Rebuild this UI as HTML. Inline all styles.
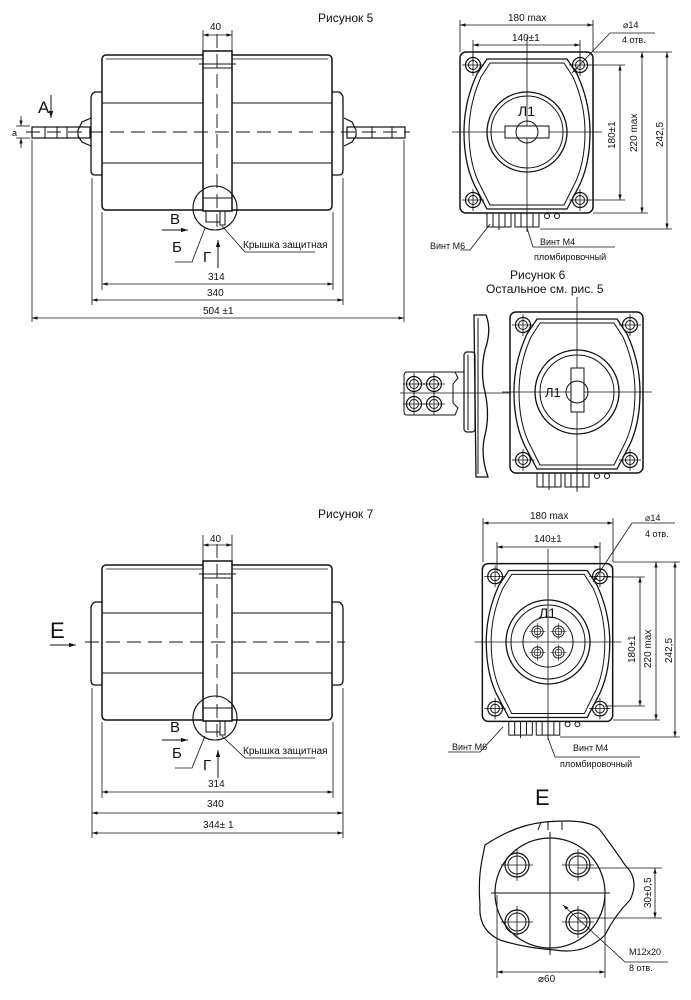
<!DOCTYPE html>
<html><head><meta charset="utf-8"><style>
html,body{margin:0;padding:0;background:#fff}
svg{display:block}
text{font-family:"Liberation Sans",sans-serif;fill:#111}
</style></head><body>
<svg width="691" height="1000" viewBox="0 0 691 1000" xmlns="http://www.w3.org/2000/svg">
<defs>
<marker id="ar" viewBox="0 0 10 10" refX="10" refY="5" markerWidth="7" markerHeight="7" orient="auto-start-reverse"><path d="M0,2 L10,5 L0,8 z" fill="#111"/></marker>
<g id="hole"><circle r="7.5" fill="none" stroke="#111" stroke-width="1.2"/><circle r="4.5" fill="none" stroke="#111" stroke-width="1"/><line x1="-11" y1="0" x2="11" y2="0" stroke="#111" stroke-width="0.8"/><line x1="0" y1="-11" x2="0" y2="11" stroke="#111" stroke-width="0.8"/></g>
<g id="front" fill="none" stroke="#111">
 <rect x="-67" y="-80" width="133" height="161" rx="6" stroke-width="1.5"/>
 <use href="#hole" x="-54" y="-67"/><use href="#hole" x="53" y="-67"/><use href="#hole" x="-54" y="68"/><use href="#hole" x="53" y="68"/>
 <path d="M-40,-73 L40,-73 L50,-58 Q63,-30 63,0 Q63,35 50,58 L40,77 L-40,77 L-50,58 Q-63,35 -63,0 Q-63,-30 -50,-58 Z" stroke-width="1.3"/>
 <path d="M-37,-69 L37,-69 L46,-55 Q58,-28 58,0 Q58,33 46,55 L37,73 L-37,73 L-46,55 Q-58,33 -58,0 Q-58,-28 -46,-55 Z" stroke-width="1"/>
 <line x1="-40" y1="77" x2="40" y2="77" stroke-width="1"/>
 <rect x="-40" y="81" width="24" height="14" stroke-width="1"/><rect x="-12" y="81" width="24" height="14" stroke-width="1"/>
 <line x1="-34" y1="81" x2="-34" y2="95"/><line x1="-28" y1="81" x2="-28" y2="98"/><line x1="-22" y1="81" x2="-22" y2="95"/>
 <line x1="-6" y1="81" x2="-6" y2="95"/><line x1="0" y1="81" x2="0" y2="98"/><line x1="6" y1="81" x2="6" y2="95"/>
 <circle cx="20" cy="84" r="2.5"/><circle cx="30" cy="84" r="2.5"/>
 <line x1="-75" y1="0" x2="75" y2="0" stroke-width="0.8"/><line x1="0" y1="-95" x2="0" y2="100" stroke-width="0.8"/>
</g>
<g id="side" fill="none" stroke="#111">
 <rect x="-115" y="-77" width="230" height="155" rx="4" stroke-width="1.5"/>
 <line x1="-111" y1="-73" x2="111" y2="-73" stroke-width="0.8"/>
 <line x1="-115" y1="-29" x2="115" y2="-29"/><line x1="-115" y1="31" x2="115" y2="31"/>
 <path d="M-115,-40 L-122,-40 Q-126,-38 -126,-34 L-126,38 Q-126,43 -122,43 L-115,43" stroke-width="1.3"/>
 <path d="M115,-40 L122,-40 Q126,-38 126,-34 L126,38 Q126,43 122,43 L115,43" stroke-width="1.3"/>
 <rect x="-14" y="-81" width="29" height="160" fill="#fff" stroke-width="1.5"/>
 <line x1="-14" y1="-64" x2="15" y2="-64"/><line x1="-18" y1="-68" x2="19" y2="-68"/>
 <line x1="-14" y1="66" x2="15" y2="66"/>
 <rect x="-11" y="79" width="14" height="11"/><rect x="3" y="79" width="5" height="14"/>
 <circle cx="-2" cy="76" r="22" stroke-width="1.1"/>
 <line x1="0" y1="-98" x2="0" y2="95" stroke-dasharray="14,6" stroke-width="0.9"/>
</g>
</defs>

<!-- Figure 5 -->
<text x="318" y="22" font-size="12">Рисунок 5</text>
<use href="#side" x="217" y="132"/>
<g fill="none" stroke="#111">
 <path d="M91,118 L82,122 L78,130 L78,136 L82,142 L91,146" stroke-width="1.2"/>
 <rect x="32" y="127" width="58" height="11" stroke-width="1.2"/>
 <line x1="45" y1="127" x2="45" y2="138"/><line x1="57" y1="127" x2="57" y2="138"/><line x1="67" y1="127" x2="67" y2="138"/>
 <path d="M344,118 L352,122 L356,130 L356,136 L352,142 L344,146" stroke-width="1.2"/>
 <rect x="347" y="127" width="58" height="11" stroke-width="1.2"/>
 <line x1="372" y1="127" x2="372" y2="138"/><line x1="392" y1="127" x2="392" y2="138"/>
 <line x1="26" y1="132" x2="410" y2="132" stroke-dasharray="14,7" stroke-width="0.9"/>
 <line x1="16" y1="126" x2="30" y2="126" stroke-width="0.8"/><line x1="16" y1="138" x2="30" y2="138" stroke-width="0.8"/>
 <line x1="21" y1="116" x2="21" y2="126" marker-end="url(#ar)" stroke-width="0.8"/><line x1="21" y1="148" x2="21" y2="138" marker-end="url(#ar)" stroke-width="0.8"/>
 <line x1="51" y1="95" x2="51" y2="118" marker-end="url(#ar)"/>
 <line x1="203" y1="30" x2="203" y2="55" stroke-width="0.8"/><line x1="232" y1="30" x2="232" y2="55" stroke-width="0.8"/>
 <line x1="203" y1="35" x2="232" y2="35" marker-start="url(#ar)" marker-end="url(#ar)" stroke-width="0.8"/>
 <line x1="102" y1="212" x2="102" y2="290" stroke-width="0.8"/><line x1="333" y1="212" x2="333" y2="290" stroke-width="0.8"/>
 <line x1="92" y1="178" x2="92" y2="305" stroke-width="0.8"/><line x1="343" y1="178" x2="343" y2="305" stroke-width="0.8"/>
 <line x1="32" y1="140" x2="32" y2="322" stroke-width="0.8"/><line x1="404" y1="140" x2="404" y2="322" stroke-width="0.8"/>
 <line x1="102" y1="284" x2="333" y2="284" marker-start="url(#ar)" marker-end="url(#ar)" stroke-width="0.8"/>
 <line x1="92" y1="300" x2="343" y2="300" marker-start="url(#ar)" marker-end="url(#ar)" stroke-width="0.8"/>
 <line x1="32" y1="318" x2="404" y2="318" marker-start="url(#ar)" marker-end="url(#ar)" stroke-width="0.8"/>
 <line x1="162" y1="230" x2="188" y2="230" marker-end="url(#ar)"/>
 <line x1="218" y1="268" x2="218" y2="240" marker-end="url(#ar)"/>
 <path d="M175,262 L192,262 L205,228" stroke-width="0.8"/>
 <path d="M222,226 L245,252 L315,252" stroke-width="0.8"/>
</g>
<text x="210" y="30" font-size="10">40</text>
<text x="38" y="113" font-size="17">А</text>
<text x="12" y="136" font-size="9">а</text>
<text x="170" y="224" font-size="15">В</text>
<text x="172" y="252" font-size="15">Б</text>
<text x="203" y="262" font-size="15">Г</text>
<text x="243" y="248" font-size="10">Крышка защитная</text>
<text x="208" y="280" font-size="10">314</text>
<text x="207" y="296" font-size="10">340</text>
<text x="203" y="314" font-size="10">504 ±1</text>

<!-- Figure 5 front -->
<use href="#front" x="527" y="132"/>
<g fill="none" stroke="#111">
 <circle cx="527" cy="132" r="40" stroke-width="1.3"/><circle cx="527" cy="132" r="36"/>
 <rect x="505" y="126" width="44" height="12" fill="#fff"/><circle cx="527" cy="132" r="11"/>
 <line x1="460" y1="20" x2="460" y2="52" stroke-width="0.8"/><line x1="593" y1="20" x2="593" y2="52" stroke-width="0.8"/>
 <line x1="460" y1="25" x2="593" y2="25" marker-start="url(#ar)" marker-end="url(#ar)" stroke-width="0.8"/>
 <line x1="473" y1="40" x2="473" y2="60" stroke-width="0.8"/><line x1="580" y1="40" x2="580" y2="60" stroke-width="0.8"/>
 <line x1="473" y1="45" x2="580" y2="45" marker-start="url(#ar)" marker-end="url(#ar)" stroke-width="0.8"/>
 <line x1="587" y1="65" x2="625" y2="65" stroke-width="0.8"/><line x1="587" y1="200" x2="625" y2="200" stroke-width="0.8"/>
 <line x1="620" y1="65" x2="620" y2="200" marker-start="url(#ar)" marker-end="url(#ar)" stroke-width="0.8"/>
 <line x1="593" y1="52" x2="672" y2="52" stroke-width="0.8"/><line x1="593" y1="213" x2="648" y2="213" stroke-width="0.8"/>
 <line x1="540" y1="229" x2="672" y2="229" stroke-width="0.8"/>
 <line x1="642" y1="52" x2="642" y2="213" marker-start="url(#ar)" marker-end="url(#ar)" stroke-width="0.8"/>
 <line x1="667" y1="52" x2="667" y2="229" marker-start="url(#ar)" marker-end="url(#ar)" stroke-width="0.8"/>
 <path d="M655,33 L610,33 L572,73" stroke-width="0.8" marker-end="url(#ar)"/>
 <path d="M460,250 L470,250 L490,224" stroke-width="0.8"/>
 <path d="M527,228 L533,247 L615,247" stroke-width="0.8"/>
</g>
<text x="508" y="21" font-size="10">180 max</text>
<text x="512" y="41" font-size="10">140±1</text>
<text x="623" y="28" font-size="9">⌀14</text>
<text x="622" y="43" font-size="9">4 отв.</text>
<text x="518" y="116" font-size="14">Л1</text>
<text transform="translate(615,149) rotate(-90)" font-size="10">180±1</text>
<text transform="translate(637,152) rotate(-90)" font-size="10">220 max</text>
<text transform="translate(663,147) rotate(-90)" font-size="10">242,5</text>
<text x="430" y="249" font-size="9">Винт М6</text>
<text x="540" y="245" font-size="9">Винт М4</text>
<text x="534" y="260" font-size="9">пломбировочный</text>

<!-- Figure 6 -->
<text x="510" y="279" font-size="12">Рисунок 6</text>
<text x="486" y="293" font-size="12">Остальное см. рис. 5</text>
<use href="#front" x="577" y="392"/>
<g fill="none" stroke="#111">
 <circle cx="577" cy="392" r="42" stroke-width="1.3"/><circle cx="577" cy="392" r="37"/>
 <rect x="571" y="368" width="13" height="44" fill="#fff"/><circle cx="577" cy="392" r="11"/>
 <path d="M474,315 L486,315 Q492,330 485,350 Q480,372 485,392 Q490,415 485,435 Q480,455 488,477 L476,477 Z" stroke-width="1.3"/>
 <line x1="478" y1="318" x2="478" y2="474"/>
 <rect x="464" y="352" width="11" height="80" rx="3" stroke-width="1.2"/><line x1="468" y1="355" x2="468" y2="430"/>
 <path d="M464,372 L407,372 Q404,372 404,376 L404,412 Q404,415 407,415 L455,415 L458,408 L453,403 L453,384 L458,378 L455,372"/>
 <line x1="400" y1="393" x2="510" y2="393" stroke-width="0.8"/>
</g>
<use href="#hole" x="414" y="384"/><use href="#hole" x="434" y="384"/><use href="#hole" x="414" y="404"/><use href="#hole" x="434" y="404"/>
<text x="545" y="397" font-size="13">Л1</text>

<!-- Figure 7 -->
<text x="318" y="518" font-size="12">Рисунок 7</text>
<use href="#side" x="217" y="642"/>
<g fill="none" stroke="#111">
 <line x1="85" y1="642" x2="345" y2="642" stroke-dasharray="14,7" stroke-width="0.9"/>
 <line x1="203" y1="535" x2="203" y2="565" stroke-width="0.8"/><line x1="232" y1="535" x2="232" y2="565" stroke-width="0.8"/>
 <line x1="203" y1="545" x2="232" y2="545" marker-start="url(#ar)" marker-end="url(#ar)" stroke-width="0.8"/>
 <line x1="50" y1="645" x2="76" y2="645" marker-end="url(#ar)"/>
 <line x1="102" y1="722" x2="102" y2="798" stroke-width="0.8"/><line x1="333" y1="722" x2="333" y2="798" stroke-width="0.8"/>
 <line x1="92" y1="688" x2="92" y2="838" stroke-width="0.8"/><line x1="343" y1="688" x2="343" y2="838" stroke-width="0.8"/>
 <line x1="102" y1="792" x2="333" y2="792" marker-start="url(#ar)" marker-end="url(#ar)" stroke-width="0.8"/>
 <line x1="92" y1="813" x2="343" y2="813" marker-start="url(#ar)" marker-end="url(#ar)" stroke-width="0.8"/>
 <line x1="92" y1="833" x2="343" y2="833" marker-start="url(#ar)" marker-end="url(#ar)" stroke-width="0.8"/>
 <line x1="162" y1="740" x2="188" y2="740" marker-end="url(#ar)"/>
 <line x1="218" y1="778" x2="218" y2="750" marker-end="url(#ar)"/>
 <path d="M175,768 L192,768 L205,736" stroke-width="0.8"/>
 <path d="M222,736 L245,758 L315,758" stroke-width="0.8"/>
</g>
<text x="210" y="542" font-size="10">40</text>
<text x="50" y="638" font-size="22">Е</text>
<text x="170" y="732" font-size="15">В</text>
<text x="172" y="758" font-size="15">Б</text>
<text x="203" y="770" font-size="15">Г</text>
<text x="243" y="754" font-size="10">Крышка защитная</text>
<text x="208" y="787" font-size="10">314</text>
<text x="207" y="807" font-size="10">340</text>
<text x="203" y="828" font-size="10">344± 1</text>

<!-- Figure 7 front -->
<g transform="translate(548,642) scale(0.98)"><use href="#front"/></g>
<g fill="none" stroke="#111">
 <circle cx="548" cy="642" r="42" stroke-width="1.3"/><circle cx="548" cy="642" r="37"/>
 <circle cx="548" cy="642" r="25"/>
 <line x1="483" y1="518" x2="483" y2="562" stroke-width="0.8"/><line x1="613" y1="518" x2="613" y2="562" stroke-width="0.8"/>
 <line x1="483" y1="523" x2="613" y2="523" marker-start="url(#ar)" marker-end="url(#ar)" stroke-width="0.8"/>
 <line x1="497" y1="542" x2="497" y2="572" stroke-width="0.8"/><line x1="600" y1="542" x2="600" y2="572" stroke-width="0.8"/>
 <line x1="497" y1="547" x2="600" y2="547" marker-start="url(#ar)" marker-end="url(#ar)" stroke-width="0.8"/>
 <line x1="605" y1="577" x2="645" y2="577" stroke-width="0.8"/><line x1="605" y1="706" x2="645" y2="706" stroke-width="0.8"/>
 <line x1="640" y1="577" x2="640" y2="706" marker-start="url(#ar)" marker-end="url(#ar)" stroke-width="0.8"/>
 <line x1="613" y1="562" x2="680" y2="562" stroke-width="0.8"/><line x1="613" y1="720" x2="660" y2="720" stroke-width="0.8"/>
 <line x1="560" y1="737" x2="680" y2="737" stroke-width="0.8"/>
 <line x1="656" y1="562" x2="656" y2="720" marker-start="url(#ar)" marker-end="url(#ar)" stroke-width="0.8"/>
 <line x1="675" y1="562" x2="675" y2="737" marker-start="url(#ar)" marker-end="url(#ar)" stroke-width="0.8"/>
 <path d="M675,523 L632,523 L593,582" stroke-width="0.8" marker-end="url(#ar)"/>
 <path d="M448,752 L480,752 L503,727" stroke-width="0.8"/>
 <path d="M548,738 L555,757 L640,757" stroke-width="0.8"/>
</g>
<g transform="translate(548,642) scale(0.75)"><use href="#hole" x="-14" y="-14"/><use href="#hole" x="14" y="-14"/><use href="#hole" x="-14" y="14"/><use href="#hole" x="14" y="14"/></g>
<text x="530" y="519" font-size="10">180 max</text>
<text x="534" y="542" font-size="10">140±1</text>
<text x="645" y="521" font-size="9">⌀14</text>
<text x="645" y="537" font-size="9">4 отв.</text>
<text x="539" y="618" font-size="14">Л1</text>
<text transform="translate(635,663) rotate(-90)" font-size="10">180±1</text>
<text transform="translate(651,668) rotate(-90)" font-size="10">220 max</text>
<text transform="translate(672,663) rotate(-90)" font-size="10">242,5</text>
<text x="452" y="750" font-size="9">Винт М6</text>
<text x="573" y="751" font-size="9">Винт М4</text>
<text x="560" y="767" font-size="9">пломбировочный</text>

<!-- View E -->
<text x="535" y="805" font-size="22">Е</text>
<g fill="none" stroke="#111">
 <path d="M485,845 Q515,825 545,822 Q590,818 600,830 Q615,850 625,865 Q640,880 630,900 Q615,915 605,935 Q585,955 555,950 Q525,948 500,940 Q478,930 480,905 Q478,880 482,860 Z" stroke-width="1.2"/>
 <circle cx="550" cy="893" r="55" stroke-width="1.2"/>
 <line x1="491" y1="893" x2="610" y2="893"/><line x1="550" y1="832" x2="550" y2="955"/>
 <line x1="538" y1="830" x2="541" y2="822"/><line x1="548" y1="830" x2="548" y2="822"/><line x1="562" y1="830" x2="562" y2="822"/>
 <line x1="578" y1="868" x2="662" y2="868" stroke-width="0.8"/><line x1="578" y1="918" x2="662" y2="918" stroke-width="0.8"/>
 <line x1="655" y1="868" x2="655" y2="918" marker-start="url(#ar)" marker-end="url(#ar)" stroke-width="0.8"/>
 <line x1="497" y1="895" x2="497" y2="978" stroke-width="0.8"/><line x1="605" y1="895" x2="605" y2="978" stroke-width="0.8"/>
 <line x1="497" y1="972" x2="605" y2="972" marker-start="url(#ar)" marker-end="url(#ar)" stroke-width="0.8"/>
 <path d="M668,962 L625,962 L563,905" stroke-width="0.8" marker-end="url(#ar)"/>
</g>
<g>
 <g transform="translate(517,865)"><circle r="12" fill="none" stroke="#111" stroke-width="1.2"/><circle r="9" fill="none" stroke="#111"/><line x1="-16" y1="0" x2="16" y2="0" stroke="#111" stroke-width="0.8"/><line x1="0" y1="-16" x2="0" y2="16" stroke="#111" stroke-width="0.8"/></g>
 <g transform="translate(578,865)"><circle r="12" fill="none" stroke="#111" stroke-width="1.2"/><circle r="9" fill="none" stroke="#111"/><line x1="-16" y1="0" x2="16" y2="0" stroke="#111" stroke-width="0.8"/><line x1="0" y1="-16" x2="0" y2="16" stroke="#111" stroke-width="0.8"/></g>
 <g transform="translate(517,922)"><circle r="12" fill="none" stroke="#111" stroke-width="1.2"/><circle r="9" fill="none" stroke="#111"/><line x1="-16" y1="0" x2="16" y2="0" stroke="#111" stroke-width="0.8"/><line x1="0" y1="-16" x2="0" y2="16" stroke="#111" stroke-width="0.8"/></g>
 <g transform="translate(578,922)"><circle r="12" fill="none" stroke="#111" stroke-width="1.2"/><circle r="9" fill="none" stroke="#111"/><line x1="-16" y1="0" x2="16" y2="0" stroke="#111" stroke-width="0.8"/><line x1="0" y1="-16" x2="0" y2="16" stroke="#111" stroke-width="0.8"/></g>
</g>
<text transform="translate(651,908) rotate(-90)" font-size="10">30±0,5</text>
<text x="629" y="955" font-size="9">M12x20</text>
<text x="629" y="971" font-size="9">8 отв.</text>
<text x="538" y="982" font-size="10">⌀60</text>
</svg>
</body></html>
